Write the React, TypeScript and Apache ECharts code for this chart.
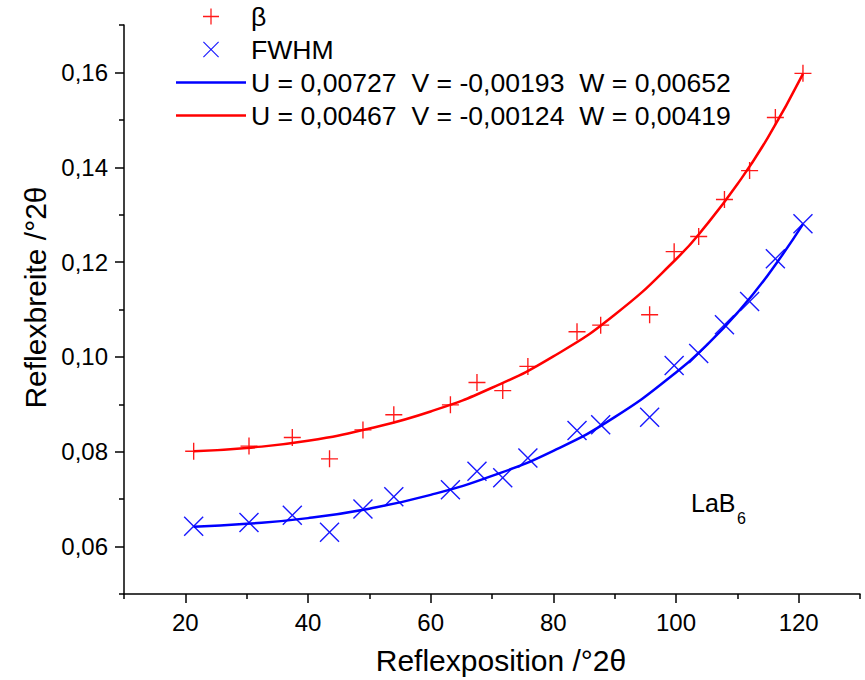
import React, { useEffect, useRef } from "react";
import * as echarts from "echarts";

const betaX = [21.36, 30.38, 37.44, 43.51, 48.96, 53.99, 63.22, 67.55, 71.75, 75.85, 83.86, 87.72, 95.7, 99.7, 103.7, 107.9, 112.0, 116.2, 120.7];
const betaY = [0.0801, 0.0812, 0.083, 0.0785, 0.0846, 0.0878, 0.0899, 0.0946, 0.0929, 0.098, 0.1053, 0.1067, 0.1089, 0.1222, 0.1254, 0.1332, 0.1393, 0.1505, 0.1598];
const fwhmY = [0.0643, 0.0651, 0.0666, 0.063, 0.0679, 0.0705, 0.072, 0.0759, 0.0745, 0.0787, 0.0845, 0.0857, 0.0873, 0.0982, 0.1007, 0.1068, 0.1117, 0.1207, 0.1281];

const fitX = [21.36, 30, 40, 50, 60, 70, 80, 90, 100, 105, 110, 115, 120.7];
const redFit = [0.0801, 0.0808, 0.0823, 0.0849, 0.0885, 0.0935, 0.1001, 0.1089, 0.1206, 0.1279, 0.1364, 0.1463, 0.1597];
const blueFit = [0.0642, 0.0648, 0.066, 0.068, 0.0709, 0.0749, 0.0802, 0.0873, 0.0967, 0.1025, 0.1093, 0.1173, 0.128];

const xMajor = [20, 40, 60, 80, 100, 120];
const xMinor = [10, 30, 50, 70, 90, 110, 130];
const yMajor = [0.06, 0.08, 0.1, 0.12, 0.14, 0.16];
const yMinor = [0.05, 0.07, 0.09, 0.11, 0.13, 0.15, 0.17];

const nameBeta = "β";
const nameFwhm = "FWHM";
const nameBlue = "U = 0,00727  V = -0,00193  W = 0,00652";
const nameRed = "U = 0,00467  V = -0,00124  W = 0,00419";

const FONT = "'Liberation Sans', Arial, sans-serif";
const PLUS = "path://M46,0 L54,0 L54,46 L100,46 L100,54 L54,54 L54,100 L46,100 L46,54 L0,54 L0,46 L46,46 Z";
const CROSS = "path://M0,5 L5,0 L50,45 L95,0 L100,5 L55,50 L100,95 L95,100 L50,55 L5,100 L0,95 L45,50 Z";
const LINEICON = "path://M0,0 L70,0 L70,2.5 L0,2.5 Z";

export default function App() {
  const ref = useRef<HTMLDivElement>(null);
  useEffect(() => {
    if (!ref.current) return;
    const chart = echarts.init(ref.current, null, { renderer: "svg" });
    const axisLine = { show: true, lineStyle: { color: "#000", width: 1.5 } };
    const fmtY = (v: number) => v.toFixed(2).replace(".", ",");
    chart.setOption({
      animation: false,
      backgroundColor: "#fff",
      textStyle: { fontFamily: FONT },
      grid: { left: 124, right: 5, top: 25, bottom: 86 },
      legend: {
        orient: "vertical",
        left: 176,
        top: 3,
        padding: 0,
        itemWidth: 70,
        itemHeight: 16,
        itemGap: 6,
        textStyle: { fontSize: 26.6, color: "#000", fontFamily: FONT },
        data: [
          { name: nameBeta, icon: PLUS },
          { name: nameFwhm, icon: CROSS },
          { name: nameBlue, icon: LINEICON },
          { name: nameRed, icon: LINEICON },
        ],
      },
      xAxis: [
        {
          type: "value",
          min: 10,
          max: 130,
          position: "bottom",
          axisLine,
          splitLine: { show: false },
          axisTick: { show: true, customValues: xMajor, length: 9, lineStyle: { color: "#000", width: 1.5 } },
          axisLabel: { customValues: xMajor, fontSize: 24, color: "#000", margin: 16, fontFamily: FONT },
          name: "Reflexposition /°2θ",
          nameLocation: "middle",
          nameGap: 51,
          nameTextStyle: { fontSize: 30, color: "#000", fontFamily: FONT, padding: [0, 0, 0, 18] },
        },
        {
          type: "value",
          min: 10,
          max: 130,
          position: "bottom",
          axisLine: { show: false },
          splitLine: { show: false },
          axisTick: { show: true, customValues: xMinor, length: 5, lineStyle: { color: "#000", width: 1.5 } },
          axisLabel: { show: false },
        },
      ],
      yAxis: [
        {
          type: "value",
          min: 0.05,
          max: 0.17,
          position: "left",
          axisLine,
          splitLine: { show: false },
          axisTick: { show: true, customValues: yMajor, length: 9, lineStyle: { color: "#000", width: 1.5 } },
          axisLabel: { customValues: yMajor, fontSize: 24, color: "#000", margin: 16, formatter: fmtY, fontFamily: FONT },
          name: "Reflexbreite /°2θ",
          nameLocation: "middle",
          nameGap: 71,
          nameTextStyle: { fontSize: 30, color: "#000", fontFamily: FONT, padding: [0, 0, 0, 24] },
        },
        {
          type: "value",
          min: 0.05,
          max: 0.17,
          position: "left",
          axisLine: { show: false },
          splitLine: { show: false },
          axisTick: { show: true, customValues: yMinor, length: 5, lineStyle: { color: "#000", width: 1.5 } },
          axisLabel: { show: false },
        },
      ],
      series: [
        {
          name: nameBeta,
          type: "scatter",
          symbol: PLUS,
          symbolSize: 17,
          itemStyle: { color: "#ff0000", opacity: 0.9 },
          data: betaX.map((x, i) => [x, betaY[i]]),
          z: 3,
        },
        {
          name: nameFwhm,
          type: "scatter",
          symbol: CROSS,
          symbolSize: 20,
          itemStyle: { color: "#0000ff", opacity: 0.9 },
          data: betaX.map((x, i) => [x, fwhmY[i]]),
          z: 3,
        },
        {
          name: nameBlue,
          type: "line",
          smooth: true,
          showSymbol: false,
          symbol: "none",
          color: "#0000ff",
          itemStyle: { color: "#0000ff" },
          lineStyle: { color: "#0000ff", width: 2.5 },
          data: fitX.map((x, i) => [x, blueFit[i]]),
          z: 2,
        },
        {
          name: nameRed,
          type: "line",
          smooth: true,
          showSymbol: false,
          symbol: "none",
          color: "#ff0000",
          itemStyle: { color: "#ff0000" },
          lineStyle: { color: "#ff0000", width: 2.5 },
          data: fitX.map((x, i) => [x, redFit[i]]),
          z: 2,
        },
      ],
      graphic: [
        {
          type: "text",
          left: 691,
          top: 490,
          style: { text: "LaB", fontSize: 25, fill: "#000", fontFamily: FONT },
        },
        {
          type: "text",
          left: 737,
          top: 510,
          style: { text: "6", fontSize: 16, fill: "#000", fontFamily: FONT },
        },
      ],
    });
    return () => chart.dispose();
  }, []);
  return (
    <div
      ref={ref}
      style={{ position: "absolute", left: 0, top: 0, width: 865, height: 680, background: "#fff" }}
    />
  );
}
